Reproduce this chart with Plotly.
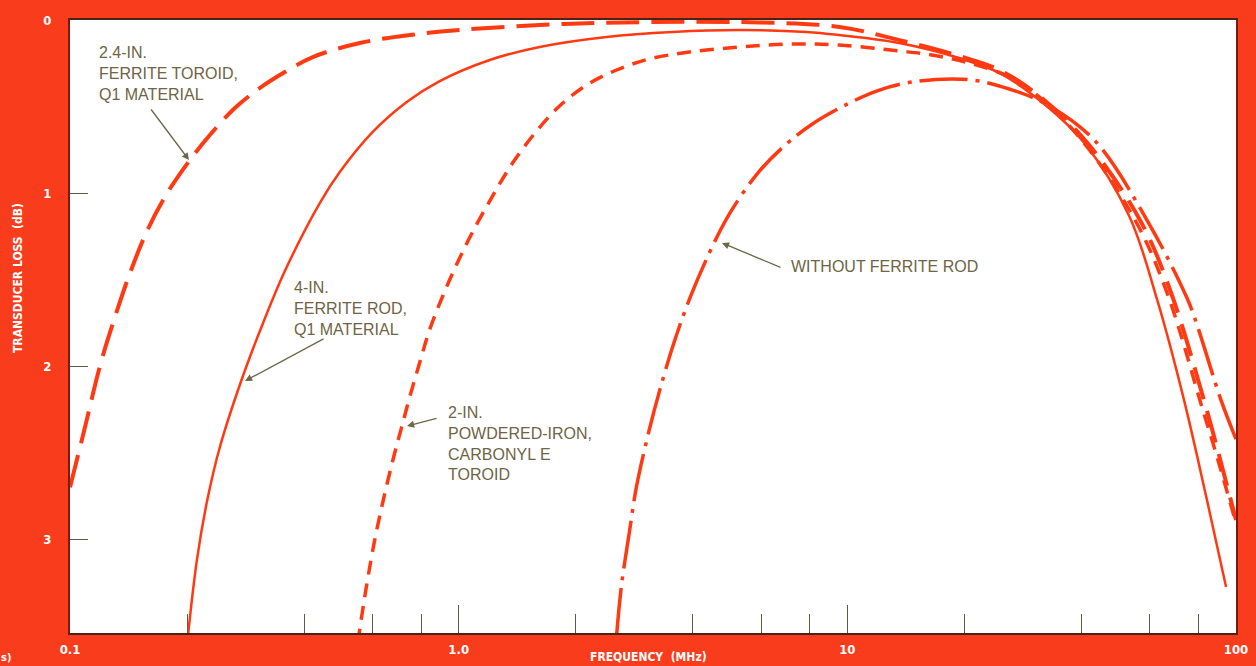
import plotly.graph_objects as go

# ---------------- data (frequency in MHz, transducer loss in dB) ----------------
toroid_f = [0.100, 0.1093, 0.1194, 0.1305, 0.1427, 0.1587, 0.1786, 0.2035, 0.2290, 0.2656,
            0.3080, 0.3571, 0.4214, 0.5567, 0.7482, 1.006, 1.615, 2.64, 5.28, 9.54,
            13.6, 19.4, 24.6, 32.1, 41.9, 57.0, 68.1, 83.8, 90.4, 100.0]
toroid_db = [2.70, 2.353, 2.00, 1.717, 1.462, 1.208, 0.994, 0.809, 0.665, 0.509,
             0.393, 0.301, 0.214, 0.133, 0.087, 0.058, 0.029, 0.014, 0.012, 0.040,
             0.116, 0.208, 0.289, 0.462, 0.723, 1.168, 1.578, 2.243, 2.514, 2.89]

rod_f = [0.2011, 0.2121, 0.2250, 0.2430, 0.2768, 0.3080, 0.3571, 0.4392, 0.4944, 0.601,
         0.735, 0.894, 1.202, 1.615, 2.402, 3.549, 5.28, 7.85, 9.54, 13.6,
         19.4, 24.6, 32.1, 40.7, 53.1, 62.7, 73.5, 84.2, 94.3]
rod_db = [3.56, 3.12, 2.786, 2.468, 2.075, 1.798, 1.451, 1.058, 0.879, 0.647,
          0.474, 0.353, 0.231, 0.156, 0.098, 0.069, 0.058, 0.069, 0.087, 0.133,
          0.22, 0.306, 0.486, 0.711, 1.133, 1.618, 2.197, 2.775, 3.277]

iron_f = [0.550, 0.577, 0.608, 0.645, 0.685, 0.714, 0.748, 0.794, 0.842, 0.910,
          0.994, 1.086, 1.223, 1.376, 1.586, 1.818, 2.133, 2.548, 3.097, 3.925,
          5.28, 7.10, 9.54, 13.6, 16.5, 20.6, 26.1, 32.1, 41.4, 55.7,
          66.9, 82.3, 89.4, 100.0]
iron_db = [3.60, 3.295, 3.006, 2.74, 2.50, 2.35, 2.18, 1.98, 1.79, 1.595,
           1.40, 1.225, 1.017, 0.827, 0.642, 0.497, 0.376, 0.289, 0.225, 0.185,
           0.156, 0.139, 0.145, 0.179, 0.202, 0.249, 0.329, 0.468, 0.734, 1.179,
           1.595, 2.26, 2.526, 2.908]

norod_f = [2.548, 2.624, 2.752, 2.869, 3.097, 3.286, 3.592, 3.972, 4.605, 5.063,
           5.94, 6.97, 8.13, 10.12, 12.09, 14.70, 18.62, 21.84, 26.1, 32.1,
           43.2, 59.0, 74.8, 79.4, 91.5, 100.0]
norod_db = [3.56, 3.266, 2.954, 2.694, 2.364, 2.145, 1.855, 1.584, 1.260, 1.092,
            0.873, 0.717, 0.601, 0.480, 0.405, 0.358, 0.341, 0.353, 0.399, 0.480,
            0.694, 1.156, 1.607, 1.763, 2.197, 2.422]

x_tickvals = [0.1, 1, 10, 100]
x_ticktext = ["0.1", "1.0", "10", "100"]
x_minor = [0.2, 0.4, 0.6, 0.8, 2, 4, 6, 8, 20, 40, 60, 80]
y_tickvals = [0, 1, 2, 3]

# ---------------- styling ----------------
BG = "#f93c1c"
LINE = "#ff3a12"
TXT = "#6f6443"
ARROW = "#6a6848"
COND = "Liberation Sans Narrow, DejaVu Sans Condensed, Arial Narrow, sans-serif"
LBL = "Liberation Sans, Arial, sans-serif"

fig = go.Figure()
fig.add_trace(go.Scatter(x=norod_f, y=norod_db, mode="lines", line_shape="spline",
                         line=dict(color=LINE, width=3.5, dash="48px,8px,4px,8px"),
                         name="Without ferrite rod"))
fig.add_trace(go.Scatter(x=iron_f, y=iron_db, mode="lines", line_shape="spline",
                         line=dict(color=LINE, width=3.5, dash="14px,9px"),
                         name="2-in. powdered-iron toroid"))
fig.add_trace(go.Scatter(x=rod_f, y=rod_db, mode="lines", line_shape="spline",
                         line=dict(color=LINE, width=2.5),
                         name="4-in. ferrite rod"))
fig.add_trace(go.Scatter(x=toroid_f, y=toroid_db, mode="lines", line_shape="spline",
                         line=dict(color=LINE, width=4, dash="33px,12px"),
                         name="2.4-in. ferrite toroid"))

W_PLOT = 1166.0
H_PLOT = 613.0


def pp(x, y):
    return (x - 70) / W_PLOT, (633 - y) / H_PLOT


annotations = []
# curve labels
for text, (x, y) in [
    ("2.4-IN.<br>FERRITE TOROID,<br>Q1 MATERIAL", (97, 73)),
    ("4-IN.<br>FERRITE ROD,<br>Q1 MATERIAL", (292, 308)),
    ("2-IN.<br>POWDERED-IRON,<br>CARBONYL E<br>TOROID", (446, 443)),
    ("WITHOUT FERRITE ROD", (789, 266)),
]:
    px, py = pp(x, y)
    annotations.append(dict(x=px, y=py, xref="paper", yref="paper", text=text,
                            showarrow=False, xanchor="left", yanchor="middle", align="left",
                            font=dict(family=LBL, size=16, color=TXT)))
# arrows
for (hx, hy), (ax, ay) in [((189, 160), (-39, -52)), ((245, 381), (80, -43)),
                           ((407, 426), (31, -8)), ((722, 243), (60, 25))]:
    px, py = pp(hx, hy)
    annotations.append(dict(x=px, y=py, xref="paper", yref="paper", text="",
                            showarrow=True, ax=ax, ay=ay, arrowhead=2, arrowsize=1.1,
                            arrowwidth=1.3, arrowcolor=ARROW, standoff=0))
# axis titles
px, py = pp(648, 657)
annotations.append(dict(x=px, y=py, xref="paper", yref="paper", text="FREQUENCY  (MHz)",
                        showarrow=False, xanchor="center", yanchor="middle",
                        font=dict(family=COND, size=12, color="white", weight="bold")))
px, py = pp(18, 278)
annotations.append(dict(x=px, y=py, xref="paper", yref="paper", text="TRANSDUCER LOSS  (dB)",
                        showarrow=False, textangle=-90, xanchor="center", yanchor="middle",
                        font=dict(family=COND, size=12, color="white", weight="bold")))
px, py = pp(6, 657)
annotations.append(dict(x=px, y=py, xref="paper", yref="paper", text="s)",
                        showarrow=False, xanchor="center", yanchor="middle",
                        font=dict(family=COND, size=11, color="white", weight="bold")))

fig.update_layout(
    width=1256, height=666,
    margin=dict(l=70, r=20, t=20, b=33, autoexpand=False),
    paper_bgcolor=BG, plot_bgcolor="white",
    showlegend=False,
    annotations=annotations,
)
fig.update_xaxes(type="log", range=[-1, 2], showgrid=False, zeroline=False,
                 tickvals=x_tickvals, ticktext=x_ticktext,
                 ticks="inside", ticklen=28, tickwidth=1.2, tickcolor="#5d5a48",
                 minor=dict(tickvals=x_minor, ticks="inside", ticklen=19,
                            tickwidth=1.2, tickcolor="#5d5a48", showgrid=False),
                 tickfont=dict(family=COND, size=13, color="white", weight="bold"),
                 ticklabelstandoff=3,
                 showline=True, linecolor="#4a2416", linewidth=2, mirror=True)
fig.update_yaxes(range=[3.543, 0], showgrid=False, zeroline=False,
                 tickvals=y_tickvals, ticks="inside", ticklen=18, tickwidth=1.2,
                 tickcolor="#5d5a48",
                 tickfont=dict(family=COND, size=13, color="white", weight="bold"),
                 ticklabelstandoff=14,
                 showline=True, linecolor="#7a1a0c", linewidth=2, mirror=True)

fig.write_html("out.html", config={"displayModeBar": False},
               post_script="document.body.style.margin='0';document.body.style.background='%s';" % BG)
